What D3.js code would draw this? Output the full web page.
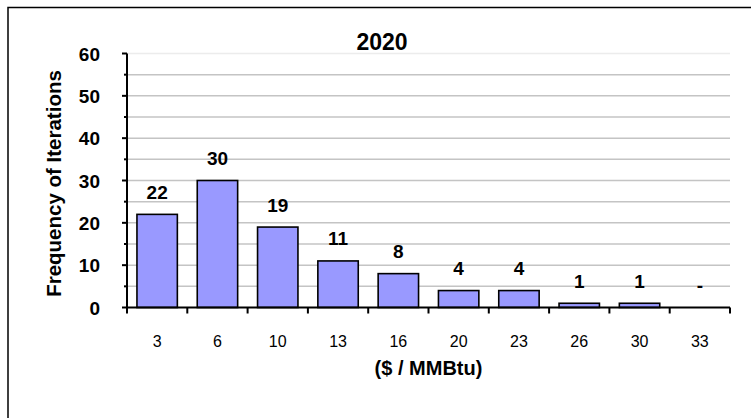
<!DOCTYPE html>
<html>
<head>
<meta charset="utf-8">
<script src="https://cdn.jsdelivr.net/npm/d3@7"></script>
<style>
  html, body { margin: 0; padding: 0; background: #fff; }
  svg { display: block; }
  text { font-family: "Liberation Sans", Arial, Helvetica, sans-serif; fill: #000; }
</style>
</head>
<body>
<script>
// Price bins ($/MMBtu) and how many iterations landed in each
const categories = ["3", "6", "10", "13", "16", "20", "23", "26", "30", "33"];
const frequencies = [22, 30, 19, 11, 8, 4, 4, 1, 1, 0];
const yTicks = [0, 10, 20, 30, 40, 50, 60];
const yMinorTicks = [5, 15, 25, 35, 45, 55];
const chartTitle = "2020";
const xTitle = "($ / MMBtu)";
const yTitle = "Frequency of Iterations";

const W = 751, H = 418;
const plot = { left: 127, right: 730, top: 53.5, bottom: 307.5 };

const svg = d3.select("body").append("svg")
  .attr("width", W).attr("height", H);

// Chart frame (extends past the right and bottom of the view)
svg.append("rect")
  .attr("x", 8).attr("y", 7.5)
  .attr("width", 900).attr("height", 600)
  .attr("fill", "none").attr("stroke", "#000").attr("stroke-width", 1.5);

const x = d3.scaleBand()
  .domain(categories)
  .range([plot.left, plot.right])
  .paddingInner(0.33)
  .paddingOuter(0.165);

const y = d3.scaleLinear()
  .domain([0, 60])
  .range([plot.bottom, plot.top]);

// Horizontal gridlines every 5 units
const gridVals = d3.range(5, 61, 5);
svg.append("g").selectAll("line")
  .data(gridVals)
  .join("line")
  .attr("x1", plot.left).attr("x2", plot.right)
  .attr("y1", d => y(d)).attr("y2", d => y(d))
  .attr("stroke", d => d === 60 ? "#ececec" : "#c4c4c4")
  .attr("stroke-width", 1.5);

// Bars
svg.append("g").selectAll("rect")
  .data(frequencies)
  .join("rect")
  .attr("x", (d, i) => x(categories[i]))
  .attr("width", x.bandwidth())
  .attr("y", d => y(d))
  .attr("height", d => y(0) - y(d))
  .attr("fill", "#9999ff")
  .attr("stroke", "#000")
  .attr("stroke-width", 1.6);

// Value labels above bars ("-" for an empty bin)
svg.append("g").selectAll("text")
  .data(frequencies)
  .join("text")
  .attr("x", (d, i) => x(categories[i]) + x.bandwidth() / 2)
  .attr("y", d => y(d) - 15.5)
  .attr("text-anchor", "middle")
  .attr("font-size", 19)
  .attr("font-weight", "bold")
  .text(d => d === 0 ? "-" : d);

// Y axis: major ticks with labels, minor ticks without
const yAxis = svg.append("g").attr("transform", `translate(${plot.left},0)`);
yAxis.append("line")
  .attr("x1", 0).attr("x2", 0)
  .attr("y1", y(60)).attr("y2", y(0))
  .attr("stroke", "#000").attr("stroke-width", 2);
yAxis.selectAll("line.major")
  .data(yTicks)
  .join("line").attr("class", "major")
  .attr("x1", -5).attr("x2", 0)
  .attr("y1", d => y(d)).attr("y2", d => y(d))
  .attr("stroke", "#000").attr("stroke-width", 2);
yAxis.selectAll("line.minor")
  .data(yMinorTicks)
  .join("line").attr("class", "minor")
  .attr("x1", -3).attr("x2", 0)
  .attr("y1", d => y(d)).attr("y2", d => y(d))
  .attr("stroke", "#000").attr("stroke-width", 2);
yAxis.selectAll("text")
  .data(yTicks)
  .join("text")
  .attr("x", -27)
  .attr("y", d => y(d) + 7)
  .attr("text-anchor", "end")
  .attr("font-size", 19)
  .attr("font-weight", "bold")
  .text(d => d);

// X axis: ticks on bin boundaries, labels centered in bins
const xAxis = svg.append("g").attr("transform", `translate(0,${plot.bottom})`);
xAxis.append("line")
  .attr("x1", plot.left).attr("x2", plot.right)
  .attr("y1", 0).attr("y2", 0)
  .attr("stroke", "#000").attr("stroke-width", 2);
const step = x.step();
const boundaries = d3.range(categories.length + 1).map(i => plot.left + i * (plot.right - plot.left) / categories.length);
xAxis.selectAll("line.tick")
  .data(boundaries)
  .join("line").attr("class", "tick")
  .attr("x1", d => d).attr("x2", d => d)
  .attr("y1", 0).attr("y2", 6)
  .attr("stroke", "#000").attr("stroke-width", 2);
xAxis.selectAll("text")
  .data(categories)
  .join("text")
  .attr("x", d => x(d) + x.bandwidth() / 2)
  .attr("y", 39.5)
  .attr("text-anchor", "middle")
  .attr("font-size", 16)
  .text(d => d);

// Titles
svg.append("text")
  .attr("x", 382).attr("y", 50)
  .attr("text-anchor", "middle")
  .attr("font-size", 23)
  .attr("font-weight", "bold")
  .text(chartTitle);

svg.append("text")
  .attr("x", (plot.left + plot.right) / 2).attr("y", 375)
  .attr("text-anchor", "middle")
  .attr("font-size", 20)
  .attr("font-weight", "bold")
  .text(xTitle);

svg.append("text")
  .attr("transform", `translate(61,${(plot.top + plot.bottom) / 2 + 3}) rotate(-90)`)
  .attr("text-anchor", "middle")
  .attr("font-size", 20.5)
  .attr("font-weight", "bold")
  .text(yTitle);
</script>
</body>
</html>
